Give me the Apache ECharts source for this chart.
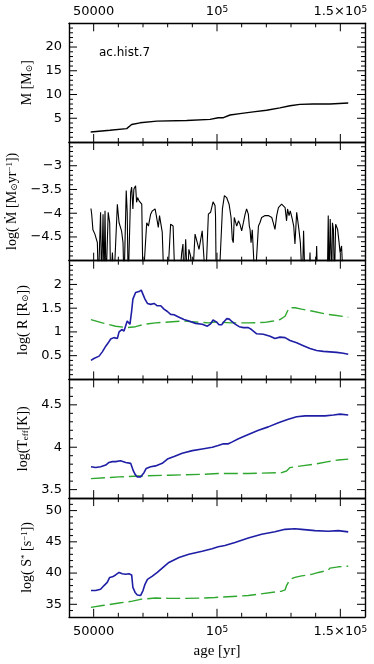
<!DOCTYPE html>
<html><head><meta charset="utf-8">
<script src="https://cdn.jsdelivr.net/npm/echarts@6/dist/echarts.min.js"></script>
<style>html,body{margin:0;padding:0;background:#fff}#c{width:374px;height:664px}</style>
</head><body><div id="c"></div>
<script>
// ---------- data (age [yr], value) ----------
const massData = [[48800,2.1],[56600,2.46],[63400,2.82],[65400,3.68],[68800,4.04],[75600,4.40],[87700,4.54],[97200,4.76],[100500,5.12],[102600,5.12],[105300,5.69],[109300,5.98],[114700,6.34],[120100,6.70],[125500,7.20],[129600,7.63],[133600,7.92],[139000,7.99],[145800,7.99],[153200,8.2]];

const mdotData = [[48900,-3.90],[49200,-4.02],[49700,-4.35],[50500,-4.44],[51100,-4.48],[51500,-4.62],[51900,-5.5],[52500,-5.5],[52800,-3.98],[53200,-5.5],[53800,-4.02],[54200,-5.5],[54600,-3.95],[55000,-5.5],[55900,-3.98],[56500,-4.20],[56900,-5.5],[57600,-4.83],[58200,-5.5],[59600,-3.81],[60300,-4.20],[61300,-4.37],[61900,-4.62],[62300,-5.5],[63200,-3.52],[63600,-3.98],[64000,-5.5],[65000,-3.56],[65400,-3.45],[65900,-3.91],[66300,-3.49],[67000,-3.42],[67400,-3.77],[67800,-3.67],[68400,-3.74],[69000,-3.70],[69500,-3.81],[70000,-5.5],[70800,-5.5],[71500,-4.20],[72200,-4.27],[73100,-4.02],[73800,-3.95],[74900,-3.91],[75400,-4.05],[76200,-4.30],[76700,-4.05],[77200,-4.02],[77800,-4.40],[78500,-5.5],[79900,-5.5],[81200,-4.23],[82200,-4.27],[83000,-5.5],[84600,-5.5],[85700,-4.83],[86200,-4.65],[86600,-5.5],[87300,-4.55],[88000,-5.5],[88600,-4.76],[89300,-4.90],[90000,-5.5],[91100,-4.44],[92000,-4.62],[92700,-4.76],[93400,-4.55],[94000,-4.37],[94700,-4.37],[95400,-5.5],[96500,-4.02],[97400,-3.98],[98400,-3.76],[99200,-3.84],[99400,-4.05],[99700,-5.5],[100800,-5.5],[102200,-3.91],[103000,-3.63],[103900,-3.67],[104900,-3.81],[105700,-4.09],[106200,-4.55],[106600,-4.62],[107000,-4.09],[107600,-4.20],[108000,-4.27],[108700,-4.16],[109300,-4.23],[110000,-4.37],[110700,-4.20],[111400,-4.02],[112000,-3.91],[112700,-4.02],[113100,-4.27],[113400,-4.34],[113800,-4.62],[114300,-4.35],[114900,-4.34],[115400,-5.5],[116100,-5.5],[116800,-4.27],[117400,-4.20],[118100,-4.09],[118800,-4.12],[119500,-4.05],[120100,-4.02],[120800,-4.05],[121500,-4.04],[122200,-4.09],[122800,-4.20],[123500,-4.34],[124200,-4.05],[124900,-3.88],[125500,-3.84],[126200,-3.81],[126900,-3.81],[127600,-3.88],[128200,-4.16],[128600,-3.91],[129200,-4.05],[129700,-3.95],[130500,-4.12],[131100,-4.27],[131600,-4.65],[132300,-3.98],[132700,-4.02],[133200,-4.34],[133800,-4.62],[134600,-5.5],[135100,-4.37],[135700,-5.5],[137300,-5.5],[137700,-4.83],[138100,-5.5],[140000,-5.5],[140400,-4.69],[140800,-5.5],[144700,-5.5],[145100,-4.05],[145400,-5.5],[145900,-4.12],[146500,-5.5],[146800,-4.20],[147200,-4.34],[147600,-5.5],[148100,-4.23],[148900,-4.34],[149500,-4.62],[149900,-4.83],[150500,-4.69],[151200,-5.5]];

const radiusBlue = [[48900,0.40],[50100,0.44],[52200,0.49],[53500,0.58],[54900,0.70],[55900,0.77],[56900,0.85],[58200,0.88],[59600,0.86],[60300,1.00],[61400,1.05],[62300,1.02],[63000,0.98],[63600,1.23],[64300,1.26],[64700,1.16],[65400,1.44],[65900,1.69],[66600,1.65],[67000,1.83],[67700,1.83],[68400,1.85],[69300,1.88],[70000,1.79],[70800,1.69],[71800,1.60],[73100,1.58],[74500,1.60],[75800,1.55],[77200,1.55],[78500,1.48],[79900,1.43],[81200,1.37],[82600,1.36],[84600,1.31],[86600,1.26],[88600,1.23],[91300,1.18],[94000,1.16],[96100,1.12],[97400,1.17],[98400,1.25],[99200,1.27],[100000,1.20],[100800,1.15],[101900,1.15],[102900,1.22],[104000,1.28],[105000,1.27],[106000,1.22],[107500,1.16],[109000,1.11],[110700,1.09],[112700,1.09],[114000,1.05],[116100,0.96],[118800,0.95],[121500,0.91],[123500,0.86],[125500,0.89],[127600,0.88],[129600,0.82],[132300,0.77],[135000,0.71],[137700,0.65],[140400,0.61],[143100,0.59],[145800,0.58],[148500,0.57],[151200,0.55],[153200,0.53]];
const radiusGreen = [[48900,1.26],[53500,1.19],[58900,1.12],[63600,1.09],[67000,1.11],[70400,1.16],[75100,1.19],[80500,1.21],[85900,1.23],[91300,1.21],[96700,1.19],[99200,1.21],[105900,1.19],[112700,1.19],[119500,1.20],[122800,1.23],[125500,1.26],[127600,1.33],[128600,1.44],[129200,1.51],[131600,1.51],[134300,1.48],[138400,1.44],[143800,1.38],[147800,1.35],[153200,1.31]];

const teffBlue = [[48900,3.77],[50800,3.76],[52800,3.77],[54900,3.79],[56200,3.82],[57600,3.83],[58900,3.83],[60900,3.84],[63000,3.82],[65000,3.81],[65700,3.79],[66100,3.72],[66800,3.68],[67700,3.65],[69000,3.65],[69700,3.66],[70400,3.70],[71300,3.75],[73100,3.77],[75100,3.78],[77800,3.81],[79900,3.86],[82600,3.89],[85900,3.93],[90000,3.96],[94000,3.98],[98100,4.00],[100500,4.02],[102600,4.04],[104600,4.04],[106000,4.06],[108700,4.10],[112700,4.15],[116800,4.20],[120800,4.24],[124900,4.29],[128900,4.33],[132300,4.36],[135700,4.37],[139700,4.37],[143800,4.37],[147200,4.38],[149900,4.39],[153200,4.38]];
const teffGreen = [[48900,3.63],[60300,3.65],[68400,3.66],[80500,3.67],[94000,3.68],[100500,3.69],[112700,3.69],[126200,3.70],[128200,3.72],[129600,3.76],[134300,3.78],[139700,3.80],[145100,3.83],[149200,3.85],[153200,3.86]];

const sBlue = [[48900,37.2],[50800,37.2],[52800,37.4],[54200,38.0],[55500,38.5],[56500,39.3],[57600,39.4],[58900,39.7],[60300,40.1],[61600,39.9],[63000,39.8],[64300,39.9],[65400,39.7],[65900,37.7],[66800,36.9],[67700,36.5],[69000,36.4],[70000,37.2],[70800,38.2],[71800,39.0],[73800,39.5],[75800,40.1],[77800,40.8],[80500,41.7],[84600,42.5],[88600,43.0],[94000,43.5],[98000,43.9],[100500,44.2],[103200,44.4],[107300,44.9],[112700,45.6],[118100,46.2],[123500,46.6],[127600,47.0],[131600,47.1],[134300,47.0],[139700,46.8],[145100,46.7],[149200,46.8],[153200,46.6]];
const sGreen = [[48900,34.5],[53500,34.8],[60300,35.2],[65700,35.5],[69000,35.8],[75100,36.0],[80500,35.95],[87300,35.95],[94000,36.0],[99200,36.1],[112700,36.4],[126200,37.1],[127600,37.3],[128200,38.0],[129600,39.0],[131600,39.3],[134300,39.55],[138400,39.8],[141100,40.1],[145100,40.45],[145800,40.8],[149200,41.0],[153200,41.1]];

// ---------- ticks / labels ----------
const xMin = 40000, xMax = 160000, xMinorStep = 10000;
const xTickVals = [50000, 100000, 150000];
const xTickText = ['{n|50000}', '{n|10}{sup|5}', '{n|1.5×10}{sup|5}'];

const yTickVals = [[5,10,15,20],[-4.5,-4,-3.5,-3],[0.5,1,1.5,2],[3.5,4,4.5],[35,40,45,50]];
const yTickText = [['5','10','15','20'],['−4.5','−4','−3.5','−3'],['0.5','1','1.5','2'],['3.5','4','4.5'],['35','40','45','50']];
const yRanges = [[0,25],[-5,-2.5],[0,2.5],[3.4,4.8],[33,52]];
const yMinorSteps = [1, 0.1, 0.1, 0.1, 1];
const yNames = [
  '{t|M [M}{sub|⊙}{t|]}',
  '{t|log( Ṁ [M}{sub|⊙}{t|yr}{sup|−1}{t|])}',
  '{t|log( R [R}{sub|⊙}{t|])}',
  '{t|log(T}{sub|eff}{t|[K])}',
  '{t|log( S}{sup|*}{t| [s}{sup|−1}{t|])}'
];

// ---------- styling ----------
const ink = '#000';
const blue = '#1f1fa6';
const green = '#2fa82f';
const numFont = 'DejaVu Sans';
const serif = 'Liberation Serif, DejaVu Serif, serif';
const chartW = 374;
const gridLeft = 69, gridRight = 9, gridTop = 23.3, gridH = 118.7;
const gridW = chartW - gridLeft - gridRight;
const majorLen = 8, minorLen = 4;

function numRich() {
  return {
    n: {fontFamily: numFont, fontSize: 13, color: ink},
    sup: {fontFamily: numFont, fontSize: 9, color: ink, verticalAlign: 'top'}
  };
}
function nameRich() {
  return {
    t: {fontFamily: serif, fontSize: 14, color: ink},
    sub: {fontFamily: serif, fontSize: 9, color: ink, verticalAlign: 'bottom'},
    sup: {fontFamily: serif, fontSize: 9, color: ink, verticalAlign: 'top'}
  };
}
function axLine() { return {show: true, onZero: false, lineStyle: {color: ink, width: 1.4}}; }
function isMajor(list, v) { return list.some(t => Math.abs(t - v) < 1e-6); }

const grids = [], xAxes = [], yAxes = [], tickSeries = [];
for (let g = 0; g < 5; g++) {
  grids.push({left: gridLeft, right: gridRight, top: gridTop + g * gridH, height: gridH, outerBoundsMode: 'none', containLabel: false});
  const xFmt = (v) => xTickText[xTickVals.indexOf(v)] || '';
  xAxes.push(
    {type: 'value', gridIndex: g, min: xMin, max: xMax, position: 'bottom',
      axisLine: axLine(), axisTick: {show: false}, splitLine: {show: false},
      axisLabel: {show: g === 4, customValues: xTickVals.slice(), formatter: xFmt, rich: numRich(), margin: 8},
      name: g === 4 ? 'age [yr]' : '', nameLocation: 'middle', nameGap: 27,
      nameTextStyle: {fontFamily: serif, fontSize: 15, color: ink}},
    {type: 'value', gridIndex: g, min: xMin, max: xMax, position: 'top',
      axisLine: axLine(), axisTick: {show: false}, splitLine: {show: false},
      axisLabel: {show: g === 0, customValues: xTickVals.slice(), formatter: xFmt, rich: numRich(), margin: 5}}
  );
  const y0 = yRanges[g][0], y1 = yRanges[g][1];
  const yFmt = (v) => {
    const i = yTickVals[g].findIndex(t => Math.abs(t - v) < 1e-6);
    return i >= 0 ? yTickText[g][i] : '';
  };
  yAxes.push(
    {type: 'value', gridIndex: g, min: y0, max: y1, position: 'left',
      axisLine: axLine(), axisTick: {show: false}, splitLine: {show: false},
      axisLabel: {show: true, customValues: yTickVals[g].slice(), formatter: yFmt, fontFamily: numFont, fontSize: 13, color: ink, margin: 7},
      name: yNames[g], nameLocation: 'middle', nameRotate: 90, nameGap: 30,
      nameTextStyle: {rich: nameRich()}},
    {type: 'value', gridIndex: g, min: y0, max: y1, position: 'right',
      axisLine: axLine(), axisTick: {show: false}, axisLabel: {show: false}, splitLine: {show: false}}
  );

  // inward ticks on all four sides, drawn as short broken line segments in the panel's own axes
  const dyPerPx = (y1 - y0) / gridH, dxPerPx = (xMax - xMin) / gridW;
  const seg = [];
  for (let k = 1; xMin + k * xMinorStep < xMax; k++) {
    const v = xMin + k * xMinorStep;
    const L = (isMajor(xTickVals, v) ? majorLen : minorLen) * dyPerPx;
    seg.push([v, y0], [v, y0 + L], null, [v, y1], [v, y1 - L], null);
  }
  const st = yMinorSteps[g];
  for (let k = Math.round(y0 / st) + 1; k * st < y1 - 1e-9; k++) {
    const v = Math.round(k * st * 1000) / 1000;
    const L = (isMajor(yTickVals[g], v) ? majorLen : minorLen) * dxPerPx;
    seg.push([xMin, v], [xMin + L, v], null, [xMax, v], [xMax - L, v], null);
  }
  tickSeries.push({type: 'line', xAxisIndex: 2 * g, yAxisIndex: 2 * g, data: seg, showSymbol: false, symbol: 'none',
    connectNulls: false, clip: false, silent: true, z: 4, lineStyle: {color: ink, width: 1}});
}

function line(g, data, color, width, dashed) {
  return {type: 'line', xAxisIndex: 2 * g, yAxisIndex: 2 * g, data: data, showSymbol: false, symbol: 'none',
    clip: true,
    lineStyle: {color: color, width: width, type: dashed ? [14, 5] : 'solid'}};
}

const chart = echarts.init(document.getElementById('c'), null, {renderer: 'canvas'});
chart.setOption({
  animation: false,
  grid: grids, xAxis: xAxes, yAxis: yAxes,
  graphic: [{type: 'text', left: 99, top: 47, style: {text: 'ac.hist.7', font: '12px DejaVu Sans', fill: ink}}],
  series: [
    line(0, massData, ink, 1.4),
    line(1, mdotData, ink, 1.1),
    line(2, radiusGreen, green, 1.4, true),
    line(2, radiusBlue, blue, 1.6),
    line(3, teffGreen, green, 1.4, true),
    line(3, teffBlue, blue, 1.6),
    line(4, sGreen, green, 1.4, true),
    line(4, sBlue, blue, 1.6)
  ].concat(tickSeries)
});
</script></body></html>
